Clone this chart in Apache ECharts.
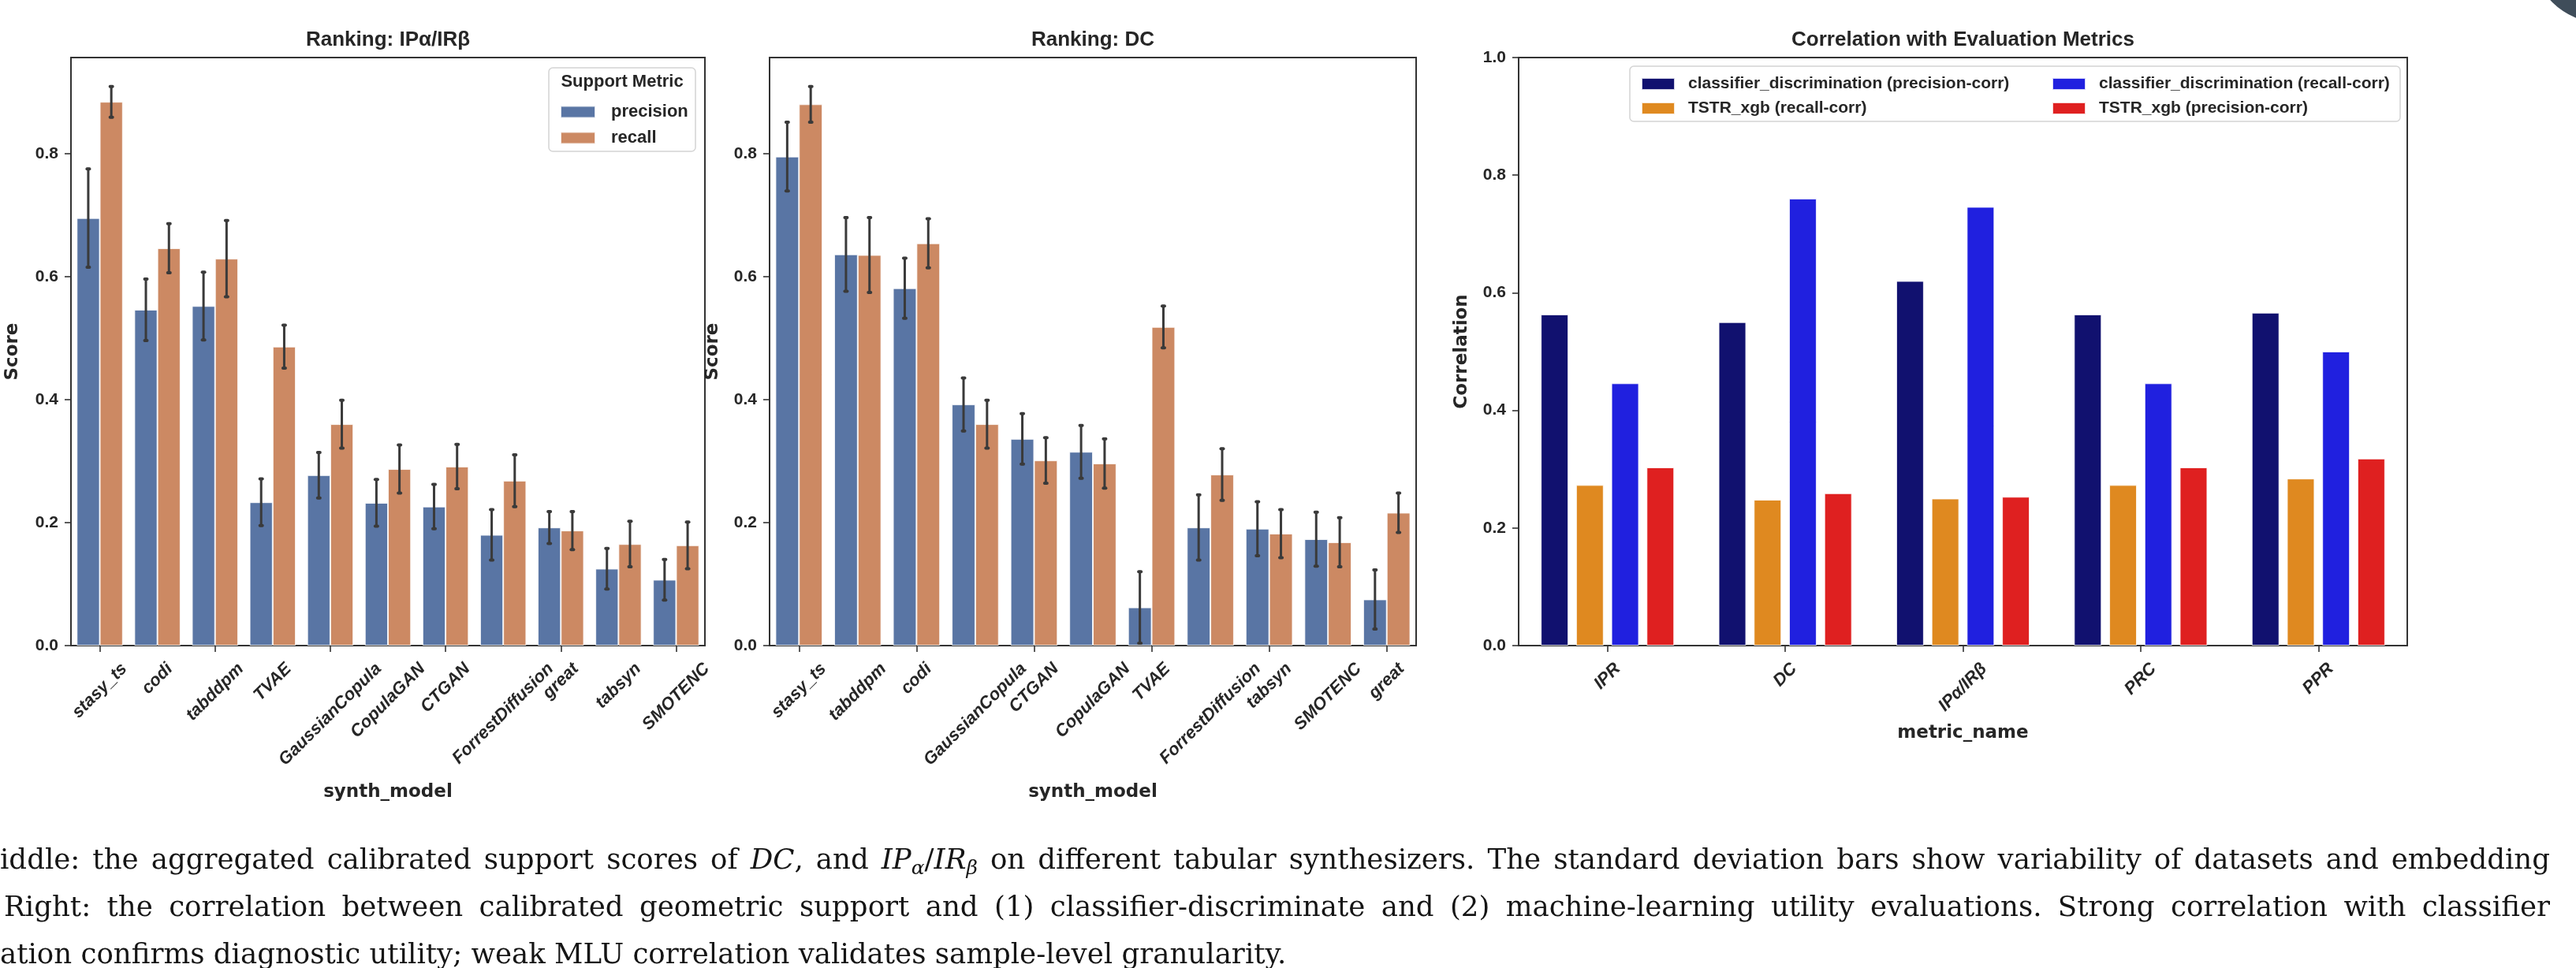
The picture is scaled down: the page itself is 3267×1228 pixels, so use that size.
<!DOCTYPE html>
<html><head><meta charset="utf-8">
<script src="https://cdn.jsdelivr.net/npm/echarts@6/dist/echarts.min.js"></script>
<style>
html,body{margin:0;padding:0;background:#fff;overflow:hidden;width:3267px;height:1228px;}
#chart{position:absolute;left:0;top:0;width:3267px;height:1228px;}
.cap{position:absolute;white-space:nowrap;font-family:"DejaVu Serif",serif;color:#151515;line-height:1;}
.cap i{font-style:italic;}
.cap sub{font-size:0.7em;vertical-align:-0.3em;line-height:0;}
</style></head>
<body>
<div id="chart"></div>
<div class="cap" id="cap1">Middle: the aggregated calibrated support scores of <i>DC</i>, and <i>IP</i><sub><i>α</i></sub>/<i>IR</i><sub><i>β</i></sub> on different tabular synthesizers. The standard deviation bars show variability of datasets and embedding</div>
<div class="cap" id="cap2">Right: the correlation between calibrated geometric support and (1) classifier-discriminate and (2) machine-learning utility evaluations. Strong correlation with classifier</div>
<div class="cap" id="cap3">discrimination confirms diagnostic utility; weak MLU correlation validates sample-level granularity.</div>
<script>
// ---------------- data ----------------
const ipCategories = ['stasy_ts','codi','tabddpm','TVAE','GaussianCopula','CopulaGAN','CTGAN','ForrestDiffusion','great','tabsyn','SMOTENC'];
const ipPrecision   = [0.695,0.546,0.552,0.233,0.277,0.232,0.226,0.180,0.192,0.125,0.107];
const ipPrecisionSd = [0.080,0.050,0.055,0.038,0.037,0.038,0.036,0.041,0.026,0.033,0.033];
const ipRecall      = [0.884,0.646,0.629,0.486,0.360,0.287,0.291,0.268,0.187,0.165,0.163];
const ipRecallSd    = [0.025,0.040,0.062,0.035,0.039,0.039,0.036,0.042,0.031,0.037,0.038];

const dcCategories = ['stasy_ts','tabddpm','codi','GaussianCopula','CTGAN','CopulaGAN','TVAE','ForrestDiffusion','tabsyn','SMOTENC','great'];
const dcPrecision   = [0.795,0.636,0.581,0.392,0.336,0.315,0.062,0.192,0.190,0.173,0.075];
const dcPrecisionSd = [0.056,0.060,0.049,0.043,0.041,0.043,0.058,0.053,0.044,0.044,0.048];
const dcRecall      = [0.880,0.635,0.654,0.360,0.301,0.296,0.518,0.278,0.182,0.168,0.216];
const dcRecallSd    = [0.029,0.061,0.040,0.039,0.037,0.040,0.034,0.042,0.039,0.040,0.032];

const metricNames       = ['IPR','DC','IPα/IRβ','PRC','PPR'];
const cdPrecisionCorr   = [0.563,0.550,0.620,0.563,0.566];
const tstrRecallCorr    = [0.273,0.248,0.250,0.273,0.284];
const cdRecallCorr      = [0.446,0.760,0.746,0.446,0.500];
const tstrPrecisionCorr = [0.303,0.259,0.253,0.303,0.318];

const scoreTicks = [0,0.2,0.4,0.6,0.8];
const scoreMax = 0.956;
const corrTicks = [0,0.2,0.4,0.6,0.8,1.0];

const titles = ['Ranking: IPα/IRβ','Ranking: DC','Correlation with Evaluation Metrics'];
const seriesNamesCorr = ['classifier_discrimination (precision-corr)','TSTR_xgb (recall-corr)','classifier_discrimination (recall-corr)','TSTR_xgb (precision-corr)'];

// ---------------- style ----------------
const FONT = '"Liberation Sans", Arial, sans-serif';
const NAMEFONT = '"DejaVu Sans", sans-serif';
const TXT = '#262626';
const grids = [
  {left:90, top:73, width:804, height:746},
  {left:976, top:73, width:820, height:746},
  {left:1926, top:73, width:1127, height:746}
];

function errData(vals, sds){ return vals.map((v,i)=>[i, v-sds[i], v+sds[i]]); }
function errRender(off){
  return function(params, api){
    const cat = api.value(0);
    const lo = api.coord([cat, api.value(1)]);
    const hi = api.coord([cat, api.value(2)]);
    const bw = api.size([1,0])[0];
    const x = lo[0] + off*bw;
    const st = {stroke:'#3a3a3a', lineWidth:3, lineCap:'round'};
    const cap = {stroke:'#3a3a3a', lineWidth:4, lineCap:'round'};
    return {type:'group', children:[
      {type:'line', shape:{x1:x,y1:lo[1],x2:x,y2:hi[1]}, style:st},
      {type:'line', shape:{x1:x-1.5,y1:lo[1],x2:x+1.5,y2:lo[1]}, style:cap},
      {type:'line', shape:{x1:x-1.5,y1:hi[1],x2:x+1.5,y2:hi[1]}, style:cap}
    ]};
  };
}

function xAxisCfg(idx, cats, name, gap){
  return {type:'category', gridIndex:idx, data:cats,
    axisLine:{show:true, lineStyle:{color:'#333', width:2}},
    axisTick:{show:true, alignWithLabel:true, length:8, lineStyle:{color:'#333', width:1.6}},
    axisLabel:{show:false},
    name:name, nameLocation:'middle', nameGap:gap,
    nameTextStyle:{fontFamily:NAMEFONT, fontWeight:'bold', fontSize:23, color:TXT}};
}
function yAxisCfg(idx, max, ticks, name, gap){
  return {type:'value', gridIndex:idx, min:0, max:max,
    axisLine:{show:true, lineStyle:{color:'#333', width:2}},
    axisTick:{show:true, length:8, customValues:ticks, lineStyle:{color:'#333', width:1.6}},
    axisLabel:{show:true, customValues:ticks, margin:16, formatter:v=>v.toFixed(1),
      fontFamily:FONT, fontWeight:'bold', fontSize:21, color:TXT},
    splitLine:{show:false},
    name:name, nameLocation:'middle', nameGap:gap,
    nameTextStyle:{fontFamily:NAMEFONT, fontWeight:'bold', fontSize:23, color:TXT}};
}
function bar(name, idx, data, color, width, gap){
  return {type:'bar', name:name, xAxisIndex:idx, yAxisIndex:idx, data:data,
    barWidth:width, barGap:gap, itemStyle:{color:color, borderColor:'rgba(255,255,255,0.8)', borderWidth:1}, z:2};
}
function err(idx, vals, sds, off){
  return {type:'custom', xAxisIndex:idx, yAxisIndex:idx, data:errData(vals, sds),
    encode:{x:0, y:[1,2]}, renderItem:errRender(off), z:5, silent:true};
}

const chart = echarts.init(document.getElementById('chart'), null, {renderer:'canvas'});
const corrColors = ['#11116f','#df8920','#2020df','#df2020'];
const corrData = [cdPrecisionCorr, tstrRecallCorr, cdRecallCorr, tstrPrecisionCorr];

const option = {
  animation:false,
  backgroundColor:'#fff',
  grid: grids.map(g=>Object.assign({show:true, borderColor:'#333', borderWidth:2, backgroundColor:'transparent'}, g)),
  xAxis:[
    xAxisCfg(0, ipCategories, 'synth_model', 175),
    xAxisCfg(1, dcCategories, 'synth_model', 175),
    xAxisCfg(2, metricNames, 'metric_name', 100)
  ],
  yAxis:[
    yAxisCfg(0, scoreMax, scoreTicks, 'Score', 62),
    yAxisCfg(1, scoreMax, scoreTicks, 'Score', 60),
    yAxisCfg(2, 1.0, corrTicks, 'Correlation', 60)
  ],
  legend:[
    {data:['precision','recall'], orient:'vertical', left:705, top:126, itemWidth:44, itemHeight:15, itemGap:11, icon:'rect',
      textStyle:{fontFamily:FONT, fontWeight:'bold', fontSize:22, lineHeight:22, color:TXT, padding:[0,0,0,15]}, selectedMode:false},
    {data:[seriesNamesCorr[0], seriesNamesCorr[1]], orient:'vertical', left:2076, top:91, itemWidth:42, itemHeight:15, itemGap:10, icon:'rect',
      textStyle:{fontFamily:FONT, fontWeight:'bold', fontSize:21, lineHeight:21, color:TXT, padding:[0,0,0,12]}, selectedMode:false},
    {data:[seriesNamesCorr[2], seriesNamesCorr[3]], orient:'vertical', left:2597, top:91, itemWidth:42, itemHeight:15, itemGap:10, icon:'rect',
      textStyle:{fontFamily:FONT, fontWeight:'bold', fontSize:21, lineHeight:21, color:TXT, padding:[0,0,0,12]}, selectedMode:false}
  ],
  series:[
    bar('precision', 0, ipPrecision, '#5975a4', '40%', '0%'),
    bar('recall', 0, ipRecall, '#cc8963', '40%', '0%'),
    err(0, ipPrecision, ipPrecisionSd, -0.2),
    err(0, ipRecall, ipRecallSd, 0.2),
    bar('precision', 1, dcPrecision, '#5975a4', '40%', '0%'),
    bar('recall', 1, dcRecall, '#cc8963', '40%', '0%'),
    err(1, dcPrecision, dcPrecisionSd, -0.2),
    err(1, dcRecall, dcRecallSd, 0.2)
  ].concat(seriesNamesCorr.map((n,k)=>bar(n, 2, corrData[k], corrColors[k], '15.5%', '28%')))
};
chart.setOption(option);

// ---------------- titles, legend frames, rotated tick labels ----------------
const cv = document.createElement('canvas').getContext('2d');
const LABELFONT = 'italic bold 22px "Liberation Sans"';
cv.font = LABELFONT;
const elements = [];
grids.forEach((g,k)=>{
  elements.push({type:'text', x:g.left+g.width/2, y:51, z:10,
    style:{text:titles[k], font:'bold 26px "Liberation Sans"', fill:TXT, align:'center', verticalAlign:'middle'}});
});
elements.push({type:'rect', z:1, shape:{x:696,y:86,width:186,height:106,r:5}, style:{fill:'rgba(255,255,255,0.85)', stroke:'#d4d4d4', lineWidth:1.5}});
elements.push({type:'text', z:10, x:789, y:104, style:{text:'Support Metric', font:'bold 22px "Liberation Sans"', fill:TXT, align:'center', verticalAlign:'middle'}});
elements.push({type:'rect', z:1, shape:{x:2067,y:84,width:977,height:70,r:5}, style:{fill:'rgba(255,255,255,0.85)', stroke:'#d4d4d4', lineWidth:1.5}});
elements.push({type:'circle', z:10, shape:{cx:3300, cy:-60, r:89}, style:{fill:'#3f4d5a'}});

const catSets = [ipCategories, dcCategories, metricNames];
catSets.forEach((cats,k)=>{
  const axisY = chart.convertToPixel({yAxisIndex:k}, 0);
  cats.forEach((c,i)=>{
    const x = chart.convertToPixel({xAxisIndex:k}, i);
    const w = cv.measureText(c).width;
    const h = 20;
    const cy = axisY + 19 + (w + h) * Math.SQRT1_2 / 2;
    elements.push({type:'text', x:x, y:cy, rotation:Math.PI/4, z:10,
      style:{text:c, font:LABELFONT, fill:TXT, align:'center', verticalAlign:'middle'}});
  });
});
chart.setOption({graphic:{elements:elements}});

// ---------------- caption ----------------
const cc = document.createElement('canvas').getContext('2d');
cc.font = '100px "DejaVu Serif"';
const refW = cc.measureText('ation confirms diagnostic utility; weak MLU correlation validates sample-level granularity.').width;
const fs = 100 * 1632 / refW;
function place(el, left, right, baseline){
  el.style.fontSize = fs + 'px';
  el.style.left = left + 'px';
  el.style.top = (baseline - 0.846*fs) + 'px';
  if (right != null){
    const w = el.getBoundingClientRect().width;
    const n = (el.textContent.match(/ /g) || []).length;
    el.style.wordSpacing = ((right - left - w) / n) + 'px';
  }
}
place(document.getElementById('cap1'), -cc.measureText('M').width*fs/100, 3234, 1102);
place(document.getElementById('cap2'), 5, 3234, 1162);
place(document.getElementById('cap3'), -cc.measureText('discrimin').width*fs/100, null, 1222);
</script>
</body></html>
